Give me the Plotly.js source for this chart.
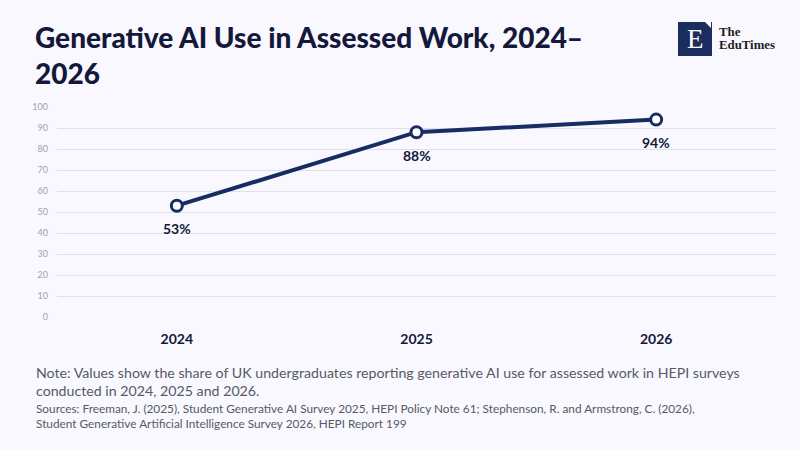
<!DOCTYPE html>
<html>
<head>
<meta charset="utf-8">
<script src="https://cdn.plot.ly/plotly-3.0.1.min.js"></script>
<style>
html,body{margin:0;padding:0;background:#f8f8fe;}
#chart{width:800px;height:450px;}
</style>
</head>
<body>
<div id="chart"></div>
<script>
var years = ['2024', '2025', '2026'];
var shares = [53, 88, 94];
var labels = ['53%', '88%', '94%'];
var yTicks = [0, 10, 20, 30, 40, 50, 60, 70, 80, 90, 100];
var titleText = 'Generative AI Use in Assessed Work, 2024–<br>2026';

var navy = '#172c63';
var ink = '#14183a';
var font = 'Lato, "Noto Sans", sans-serif';
var serif = '"Liberation Serif", "DejaVu Serif", serif';

var trace = {
  x: years,
  y: shares,
  type: 'scatter',
  mode: 'lines+markers',
  line: {color: navy, width: 4},
  marker: {size: 11, color: '#ffffff', line: {color: navy, width: 3}},
  cliponaxis: false,
  hoverinfo: 'skip'
};

var labelAnns = years.map(function (yr, i) {
  return {
    x: i, y: shares[i], xref: 'x', yref: 'y',
    text: labels[i], showarrow: false,
    xanchor: 'center', yanchor: 'middle', yshift: -23,
    font: {family: font, size: 14, color: ink, weight: 700}
  };
});

var layout = {
  width: 800,
  height: 450,
  paper_bgcolor: '#f8f8fe',
  plot_bgcolor: '#f8f8fe',
  margin: {l: 57, r: 24, t: 107, b: 133},
  showlegend: false,
  xaxis: {
    type: 'category',
    range: [-0.5, 2.5],
    showgrid: false,
    zeroline: false,
    showline: false,
    ticks: '',
    tickfont: {family: font, size: 14, color: ink, weight: 700},
    ticklabelstandoff: 12,
    fixedrange: true
  },
  yaxis: {
    range: [0, 100],
    tickvals: yTicks,
    showgrid: true,
    gridcolor: '#dfe0ea',
    gridwidth: 1,
    zeroline: false,
    showline: false,
    ticks: '',
    tickfont: {family: font, size: 9, color: '#9aa3b8'},
    ticklabelstandoff: 8,
    fixedrange: true
  },
  shapes: [
    {type: 'rect', xref: 'paper', yref: 'paper', xsizemode: 'pixel', ysizemode: 'pixel',
     xanchor: 1, yanchor: 1, x0: -98, x1: -64, y0: 51, y1: 85,
     fillcolor: '#1b2d5e', line: {width: 0}},
    {type: 'path', xref: 'paper', yref: 'paper', xsizemode: 'pixel', ysizemode: 'pixel',
     xanchor: 1, yanchor: 1,
     path: 'M -71 85 L -65 85 L -65 79 Z',
     fillcolor: '#ffffff', line: {width: 0}}
  ],
  annotations: labelAnns.concat([
    {xref: 'paper', yref: 'paper', xanchor: 'left', yanchor: 'top',
     x: 0, y: 1, xshift: -24, yshift: 89, align: 'left',
     text: titleText, showarrow: false,
     font: {family: font, size: 28, color: ink, weight: 900}},
    {xref: 'paper', yref: 'paper', xanchor: 'center', yanchor: 'middle',
     x: 1, y: 1, xshift: -81, yshift: 68,
     text: 'E', showarrow: false,
     font: {family: serif, size: 27, color: '#ffffff'}},
    {xref: 'paper', yref: 'paper', xanchor: 'left', yanchor: 'middle',
     x: 1, y: 1, xshift: -59, yshift: 75, align: 'left',
     text: 'The', showarrow: false,
     font: {family: serif, size: 12.8, color: '#1e1e24', weight: 600}},
    {xref: 'paper', yref: 'paper', xanchor: 'left', yanchor: 'middle',
     x: 1, y: 1, xshift: -59, yshift: 62, align: 'left',
     text: 'EduTimes', showarrow: false,
     font: {family: serif, size: 12.8, color: '#1e1e24', weight: 600}},
    {xref: 'paper', yref: 'paper', xanchor: 'left', yanchor: 'top',
     x: 0, y: 0, xshift: -23, yshift: -45, align: 'left',
     text: 'Note: Values show the share of UK undergraduates reporting generative AI use for assessed work in HEPI surveys<br>conducted in 2024, 2025 and 2026.',
     showarrow: false,
     font: {family: font, size: 14.2, color: '#555a66'}},
    {xref: 'paper', yref: 'paper', xanchor: 'left', yanchor: 'top',
     x: 0, y: 0, xshift: -23, yshift: -82, align: 'left',
     text: 'Sources: Freeman, J. (2025), Student Generative AI Survey 2025, HEPI Policy Note 61; Stephenson, R. and Armstrong, C. (2026),<br>Student Generative Artificial Intelligence Survey 2026, HEPI Report 199',
     showarrow: false,
     font: {family: font, size: 11.8, color: '#555a66'}}
  ])
};

Plotly.newPlot('chart', [trace], layout, {displayModeBar: false, staticPlot: true});
</script>
</body>
</html>
